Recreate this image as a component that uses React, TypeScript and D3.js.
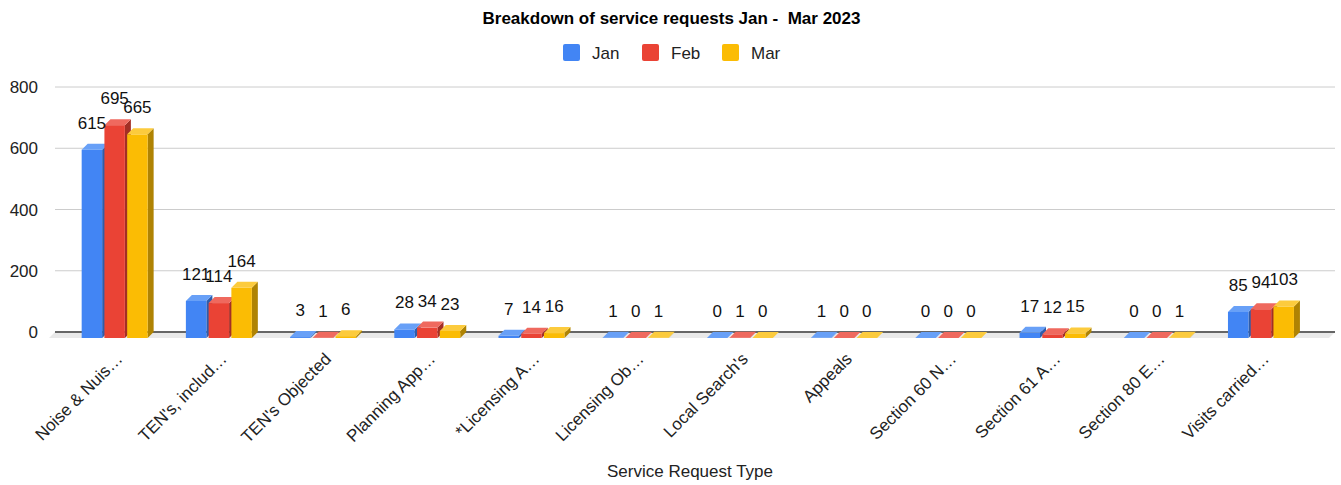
import React from "react";
import * as d3 from "d3";

const title = "Breakdown of service requests Jan -  Mar 2023";
const xAxisTitle = "Service Request Type";
const categories = [
  "Noise & Nuis…",
  "TEN's, includ…",
  "TEN's Objected",
  "Planning App…",
  "*Licensing A…",
  "Licensing Ob…",
  "Local Search's",
  "Appeals",
  "Section 60 N…",
  "Section 61 A…",
  "Section 80 E…",
  "Visits carried…",
];
const seriesNames = ["Jan", "Feb", "Mar"];
const janValues = [615, 121, 3, 28, 7, 1, 0, 1, 0, 17, 0, 85];
const febValues = [695, 114, 1, 34, 14, 0, 1, 0, 0, 12, 0, 94];
const marValues = [665, 164, 6, 23, 16, 1, 0, 0, 0, 15, 1, 103];
const yTicks = [0, 200, 400, 600, 800];

const seriesValues = [janValues, febValues, marValues];
const frontColors = ["#4285F4", "#EA4335", "#FBBC04"];
const sideColors = ["#2E5DAB", "#A32F25", "#AF8303"];
const topColors = ["#68A0F7", "#EF695E", "#FCCB3D"];

const W = 1341;
const H = 485;
const DX = 6;
const DY = 6;

export default function App() {
  const y = d3.scaleLinear().domain([0, 800]).range([332, 87]);
  const x0 = d3
    .scaleBand<string>()
    .domain(categories)
    .range([62.6, 1313])
    .paddingInner(0.367)
    .paddingOuter(0.183);
  const x1 = d3
    .scaleBand<string>()
    .domain(seriesNames)
    .range([0, x0.bandwidth()])
    .paddingInner(0.1);
  const gridL = 55;
  const gridR = 1335;
  const y0 = y(0);
  const font = "'Liberation Sans', Arial, sans-serif";

  const legendX = [563, 642, 722];

  return (
    <svg width={W} height={H} style={{ position: "absolute", left: 0, top: 0, background: "#fff" }}>
      <rect x={0} y={0} width={W} height={H} fill="#fff" />
      <text
        x={671.5}
        y={24}
        textAnchor="middle"
        fontFamily={font}
        fontWeight="bold"
        fontSize={17}
        fill="#000"
        style={{ whiteSpace: "pre" }}
      >
        {title}
      </text>
      {seriesNames.map((s, i) => (
        <g key={s}>
          <rect x={legendX[i]} y={44} width={17} height={17} rx={2} fill={frontColors[i]} />
          <text x={legendX[i] + 29} y={58.5} fontFamily={font} fontSize={17} fill="#222">
            {s}
          </text>
        </g>
      ))}
      {/* floor */}
      <polygon
        points={`${gridL},${y0} ${gridR},${y0} ${gridR - DX},${y0 + DY} ${gridL - DX},${y0 + DY}`}
        fill="#e9e9e9"
      />
      {yTicks.map((t) => (
        <g key={t}>
          {t !== 0 && <line x1={gridL} x2={gridR} y1={y(t)} y2={y(t)} stroke="#cccccc" strokeWidth={1} />}
          <text x={38} y={y(t) + 6} textAnchor="end" fontFamily={font} fontSize={17} fill="#222">
            {t}
          </text>
        </g>
      ))}
      <line x1={gridL} x2={gridR} y1={y0} y2={y0} stroke="#666" strokeWidth={2} />
      {categories.map((c, ci) => (
        <g key={c}>
          {seriesNames.map((s, si) => {
            const v = seriesValues[si][ci];
            const xl = (x0(c) as number) + (x1(s) as number);
            const w = x1.bandwidth();
            const yb = y(v);
            const ftop = yb + DY;
            const fbot = y0 + DY;
            return (
              <g key={s}>
                <polygon
                  points={`${xl + w},${ftop} ${xl + w + DX},${yb} ${xl + w + DX},${y0} ${xl + w},${fbot}`}
                  fill={sideColors[si]}
                />
                <rect x={xl} y={ftop} width={w} height={fbot - ftop} fill={frontColors[si]} />
                <polygon
                  points={`${xl},${ftop} ${xl + w},${ftop} ${xl + w + DX},${yb} ${xl + DX},${yb}`}
                  fill={topColors[si]}
                />
              </g>
            );
          })}
          {seriesNames.map((s, si) => {
            const v = seriesValues[si][ci];
            const xc = (x0(c) as number) + (x1(s) as number) + x1.bandwidth() / 2;
            return (
              <text key={s} x={xc} y={y(v) - 15} textAnchor="middle" fontFamily={font} fontSize={17} fill="#111">
                {v}
              </text>
            );
          })}
        </g>
      ))}
      {categories.map((c) => {
        const cx = (x0(c) as number) + x0.bandwidth() / 2;
        return (
          <text
            key={c}
            transform={`translate(${cx + 9},${360}) rotate(-45)`}
            textAnchor="end"
            fontFamily={font}
            fontSize={17}
            fill="#222"
          >
            {c}
          </text>
        );
      })}
      <text x={690} y={477} textAnchor="middle" fontFamily={font} fontSize={17} fill="#222">
        {xAxisTitle}
      </text>
    </svg>
  );
}
